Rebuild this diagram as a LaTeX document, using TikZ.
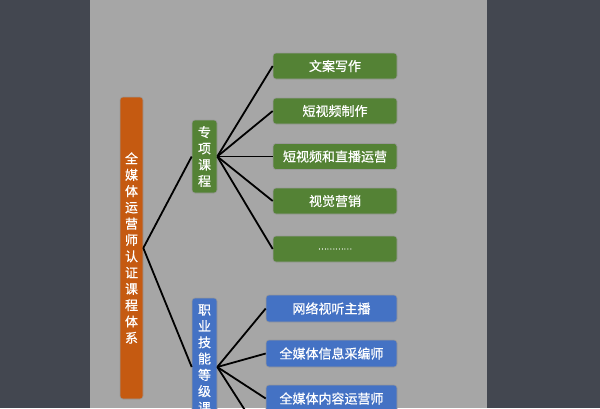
\documentclass[tikz,border=0pt]{standalone}
\usepackage{fontspec}
\newfontfamily\cjk[FakeBold=0.6]{Noto Sans CJK SC}
\definecolor{bgdark}{HTML}{434750}
\definecolor{panel}{HTML}{A6A6A6}
\definecolor{kgreen}{HTML}{548235}
\definecolor{kblue}{HTML}{4472C4}
\definecolor{korange}{HTML}{C55A11}
\tikzset{
  box/.style={draw=black!40, line width=0.6pt, rounded corners=3pt, text=white,
    font=\cjk\fontsize{13}{16.3}\selectfont, inner sep=0pt, align=center},
  gbox/.style={box, fill=kgreen, minimum width=124pt, minimum height=26pt},
  bbox/.style={box, fill=kblue, minimum width=131pt, minimum height=27pt},
  vbox/.style={box, minimum width=25pt, text width=25pt},
  link/.style={line width=1.8pt, black}
}
\begin{document}
\begin{tikzpicture}[x=1pt, y=-1pt]
\clip (0,0) rectangle (600,408);
\fill[bgdark] (0,0) rectangle (600,408);
\fill[panel] (90,0) rectangle (487,408);

% 左侧总节点
\node[vbox, fill=korange, minimum width=23pt, text width=23pt, minimum height=302pt] (root) at (131.5,248)
  {全\\媒\\体\\运\\营\\师\\认\\证\\课\\程\\体\\系};
\node[vbox, fill=kgreen, minimum height=73pt] (zx) at (204.5,156.5) {专\\项\\课\\程};
\node[vbox, fill=kblue, minimum height=138pt] (zy) at (204.5,367) {职\\业\\技\\能\\等\\级\\课\\程};

\draw[link] (root.east) -- (zx.west);
\draw[link] (root.east) -- (zy.west);

% 专项课程
\foreach \name/\y/\txt in {g1/66/文案写作, g2/111/短视频制作, g3/156.5/短视频和直播运营, g4/201/视觉营销}
{
  \node[gbox] (\name) at (335,\y) {\txt};
  \draw[link] (zx.east) -- (\name.west);
}
\node[gbox] (g5) at (335,249) {{\fontsize{8}{8}\selectfont …………}};
\draw[link] (zx.east) -- (g5.west);

% 职业技能等级课程
\foreach \name/\y/\txt in {b1/308.5/网络视听主播, b2/353.5/全媒体信息采编师, b3/398.5/全媒体内容运营师}
{
  \node[bbox] (\name) at (331.5,\y) {\txt};
  \draw[link] (zy.east) -- (\name.west);
}
\coordinate (b4) at (266,443);
\draw[link] (zy.east) -- (b4);
\end{tikzpicture}
\end{document}
